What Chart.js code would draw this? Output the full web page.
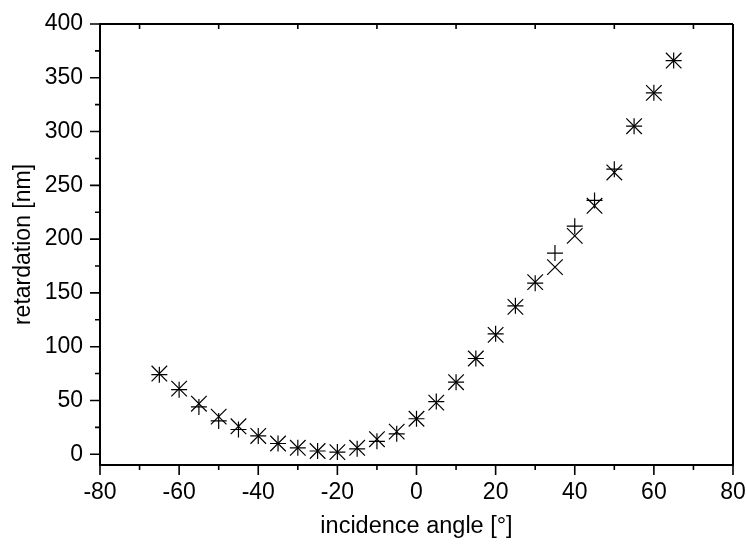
<!DOCTYPE html>
<html>
<head>
<meta charset="utf-8">
<script src="https://cdn.jsdelivr.net/npm/chart.js@4"></script>
<style>
  html, body { margin: 0; padding: 0; background: #fff; }
  #chart { display: block; }
</style>
</head>
<body>
<canvas id="chart" width="746" height="545"></canvas>
<script>
// incidence angles [deg]
const angles = [-65, -60, -55, -50, -45, -40, -35, -30, -25, -20, -15, -10, -5, 0,
                5, 10, 15, 20, 25, 30, 35, 40, 45, 50, 55, 60, 65];
// retardation [nm], "+" markers
const plusVals = [74, 60, 44, 31, 23, 17, 10, 6, 3, 2, 5, 12, 19, 33,
                  49, 67, 89, 112, 138, 159, 187, 212, 236, 265, 305, 336, 366];
// retardation [nm], "x" markers
const crossVals = [75, 61, 47, 35, 26, 17, 10, 6, 3, 2, 6, 14, 21, 33,
                   48, 67, 89, 111, 137, 160, 174, 203, 231, 262, 305, 336, 366];

const xTicks = [-80, -60, -40, -20, 0, 20, 40, 60, 80];
const yTicks = [0, 50, 100, 150, 200, 250, 300, 350, 400];

const fontFam = '"Liberation Sans", Arial, sans-serif';

const toPoints = vals => angles.map((a, i) => ({ x: a, y: vals[i] }));

// don't let label overflow add to the layout padding
const noPad = s => { s.paddingLeft = 0; s.paddingRight = 0; s.paddingTop = 0; s.paddingBottom = 0; };

// frame + major/minor ticks, Origin style
const frameTicks = {
    id: 'frameTicks',
    afterDraw(chart) {
        const { ctx, chartArea: a, scales: { x, y } } = chart;
        ctx.save();
        ctx.strokeStyle = '#000';
        ctx.lineWidth = 2;
        ctx.beginPath();
        ctx.moveTo(a.left, a.top); ctx.lineTo(a.right, a.top);
        ctx.moveTo(a.right, a.top); ctx.lineTo(a.right, a.bottom);
        ctx.stroke();

        ctx.lineWidth = 1.6;
        ctx.beginPath();
        for (let v = -80; v <= 80; v += 10) {
            const px = x.getPixelForValue(v);
            const major = v % 20 === 0;
            ctx.moveTo(px, a.bottom);
            ctx.lineTo(px, a.bottom + (major ? 10 : 5));
            if (!major) {
                ctx.moveTo(px, a.top);
                ctx.lineTo(px, a.top + 5);
            }
        }
        for (let v = 0; v <= 400; v += 25) {
            const py = y.getPixelForValue(v);
            const major = v % 50 === 0;
            ctx.moveTo(a.left, py);
            ctx.lineTo(a.left - (major ? 10 : 5), py);
        }
        ctx.stroke();
        ctx.restore();
    }
};

new Chart(document.getElementById('chart'), {
    type: 'scatter',
    data: {
        datasets: [{
            label: 'plus',
            data: toPoints(plusVals),
            pointStyle: 'cross',
            pointRadius: 8,
            borderColor: '#000',
            borderWidth: 1.2,
            showLine: false
        }, {
            label: 'cross',
            data: toPoints(crossVals),
            pointStyle: 'crossRot',
            pointRadius: 11,
            borderColor: '#000',
            borderWidth: 1.2,
            showLine: false
        }]
    },
    options: {
        responsive: false,
        animation: false,
        layout: { padding: { top: 24, right: 13, left: 0, bottom: 0 } },
        plugins: {
            legend: { display: false },
            tooltip: { enabled: false }
        },
        scales: {
            x: {
                type: 'linear',
                min: -80,
                max: 80,
                afterBuildTicks: s => { s.ticks = xTicks.map(v => ({ value: v })); },
                afterFit: s => { s.height = 80; noPad(s); },
                ticks: { color: '#000', font: { family: fontFam, size: 23 }, padding: 14, maxRotation: 0 },
                grid: { drawOnChartArea: false, drawTicks: false },
                border: { color: '#000', width: 2 },
                title: { display: true, text: 'incidence angle [°]', color: '#000',
                         font: { family: fontFam, size: 23.5 }, padding: { top: 0, bottom: 4 } }
            },
            y: {
                type: 'linear',
                min: -10,
                max: 400,
                afterBuildTicks: s => { s.ticks = yTicks.map(v => ({ value: v })); },
                afterFit: s => { s.width = 100; noPad(s); },
                ticks: { color: '#000', font: { family: fontFam, size: 23 }, padding: 17 },
                grid: { drawOnChartArea: false, drawTicks: false },
                border: { color: '#000', width: 2 },
                title: { display: true, text: 'retardation [nm]', color: '#000',
                         font: { family: fontFam, size: 23 }, padding: { top: 10, bottom: 0 } }
            }
        }
    },
    plugins: [frameTicks]
});
</script>
</body>
</html>
